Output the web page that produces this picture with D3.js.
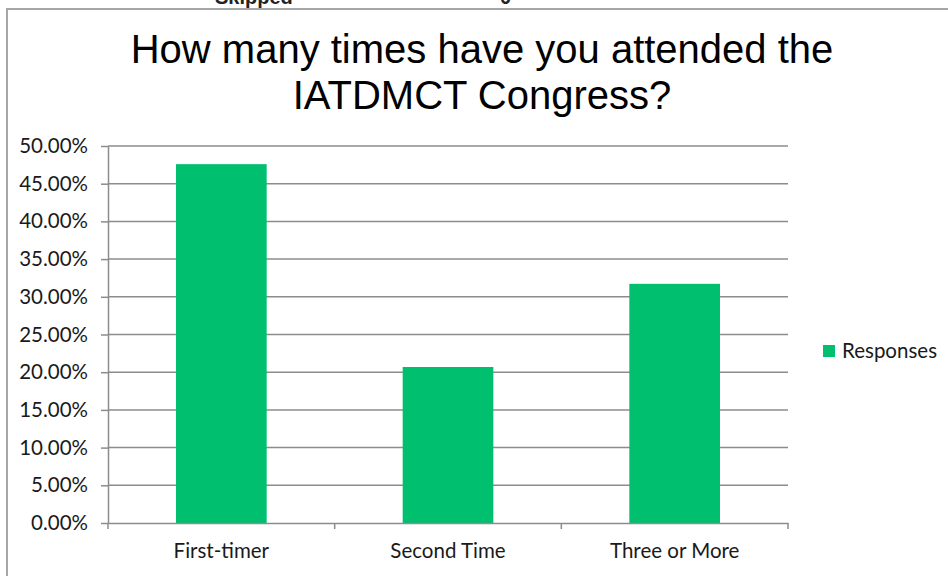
<!DOCTYPE html>
<html><head><meta charset="utf-8">
<script src="https://cdn.jsdelivr.net/npm/d3@7"></script>
<style>body{margin:0;background:#fff}svg{display:block}</style>
</head><body>
<script>
const categories = ["First-timer", "Second Time", "Three or More"];
const values = [0.4759, 0.2069, 0.3172];
const yTicks = [0, 0.05, 0.10, 0.15, 0.20, 0.25, 0.30, 0.35, 0.40, 0.45, 0.50];
const seriesName = "Responses";
const titleLines = ["How many times have you attended the", "IATDMCT Congress?"];
const headerTexts = ["Skipped", "0"];

const W = 948, H = 576;
const svg = d3.select("body").append("svg").attr("width", W).attr("height", H);

// header text partly cut off at the top, as in the reference
svg.append("g").selectAll("text").data(headerTexts).join("text")
  .attr("x", (d, i) => i === 0 ? 215 : 500).attr("y", 4)
  .attr("font-family", "Liberation Sans, Arial").attr("font-weight", "bold")
  .attr("font-size", 20).attr("fill", "#222").text(d => d);

// frame
svg.append("rect").attr("x", 7).attr("y", 9).attr("width", W + 20).attr("height", H + 20)
  .attr("fill", "#fff").attr("stroke", "#a6a6a6").attr("stroke-width", 2);

const m = {left: 108, right: 160, top: 146, bottom: 53};
const x = d3.scaleBand().domain(categories).range([m.left, W - m.right]).paddingInner(0.6).paddingOuter(0.3);
const y = d3.scaleLinear().domain([0, 0.5]).range([H - m.bottom, m.top]);

// title
svg.append("g").selectAll("text").data(titleLines).join("text")
  .attr("x", 482).attr("y", (d, i) => 63 + i * 46)
  .attr("text-anchor", "middle").attr("font-family", "Liberation Sans, Arial")
  .attr("font-size", 40).attr("fill", "#000").text(d => d);

const fmt = d => (d * 100).toFixed(2) + "%";
const font = "Lato, 'Open Sans', sans-serif";
const fs = 20.5;

// y axis
const yAxis = svg.append("g").attr("transform", `translate(${m.left},0)`)
  .call(d3.axisLeft(y).tickValues(yTicks).tickFormat(fmt).tickSize(7).tickSizeOuter(0));
yAxis.select(".domain").attr("stroke", "#8c8c8c").attr("stroke-width", 1.5);
yAxis.selectAll(".tick line").attr("stroke", "#8c8c8c").attr("stroke-width", 1.5);
yAxis.selectAll(".tick text").attr("font-family", font).attr("font-size", fs).attr("fill", "#1a1a1a").attr("x", -20);

// gridlines
svg.append("g").selectAll("line").data(yTicks.slice(1)).join("line")
  .attr("x1", m.left).attr("x2", W - m.right).attr("y1", d => y(d)).attr("y2", d => y(d))
  .attr("stroke", "#8c8c8c").attr("stroke-width", 1.5);

// bars
svg.append("g").selectAll("rect").data(values).join("rect")
  .attr("x", (d, i) => x(categories[i])).attr("width", x.bandwidth())
  .attr("y", d => y(d)).attr("height", d => y(0) - y(d)).attr("fill", "#00bf6f");

// x axis
const step = (W - m.right - m.left) / categories.length;
const xAxis = svg.append("g").attr("transform", `translate(0,${y(0)})`)
  .call(d3.axisBottom(x).tickSize(0).tickSizeOuter(0));
xAxis.select(".domain").attr("stroke", "#8c8c8c").attr("stroke-width", 1.5);
xAxis.selectAll(".tick text").attr("font-family", font).attr("font-size", fs).attr("fill", "#1a1a1a").attr("dy", "1.55em");
svg.append("g").selectAll("line").data(d3.range(categories.length + 1)).join("line")
  .attr("x1", i => m.left + i * step).attr("x2", i => m.left + i * step)
  .attr("y1", y(0)).attr("y2", y(0) + 6).attr("stroke", "#8c8c8c").attr("stroke-width", 1.5);

// legend
svg.append("rect").attr("x", 823).attr("y", 345).attr("width", 12).attr("height", 12).attr("fill", "#00bf6f");
svg.append("text").attr("x", 842).attr("y", 358).attr("font-family", font).attr("font-size", fs).attr("fill", "#1a1a1a").text(seriesName);
</script>
</body></html>
